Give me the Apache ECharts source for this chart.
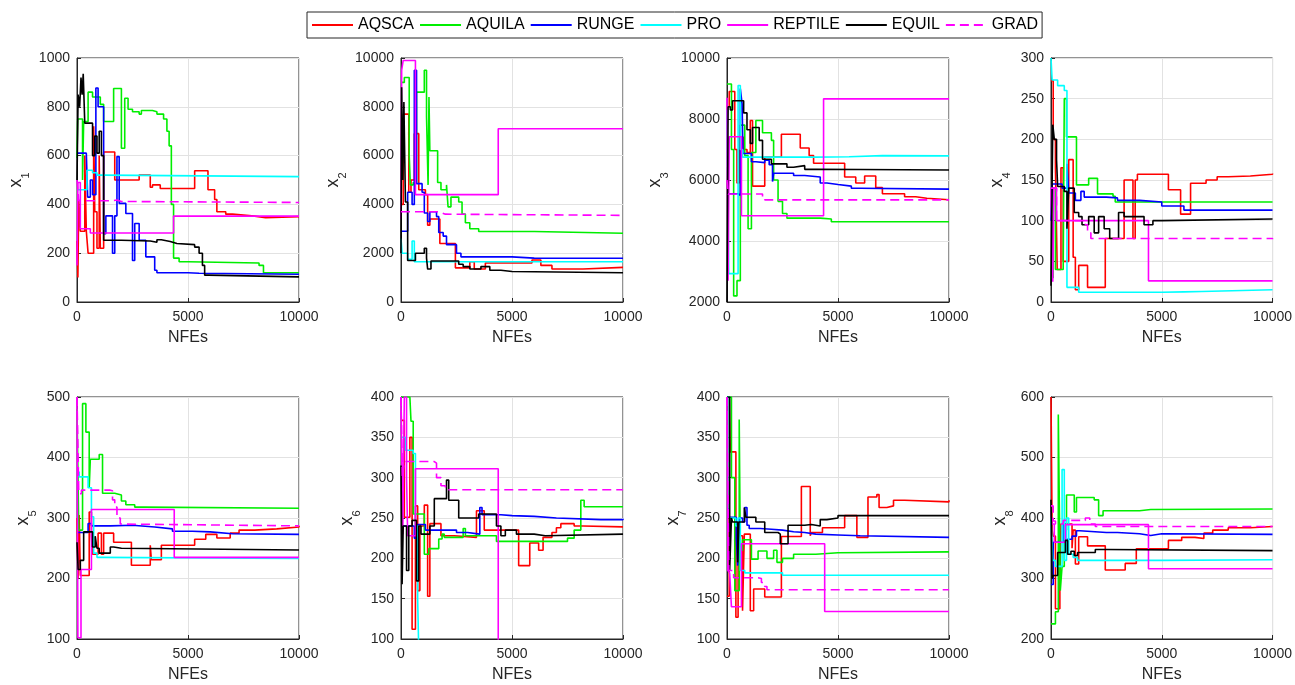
<!DOCTYPE html>
<html><head><meta charset="utf-8">
<script src="https://cdn.jsdelivr.net/npm/echarts@6/dist/echarts.min.js"></script>
<style>html,body{margin:0;padding:0;background:#fff}#c{width:1295px;height:685px}</style>
</head><body><div id="c"></div><script>
// ---------------- DATA ----------------
const SERIES = ['AQSCA','AQUILA','RUNGE','PRO','REPTILE','EQUIL','GRAD'];
const X_MIN = 0, X_MAX = 10000, X_STEP = 5000;
const Y_MIN  = [0, 0, 2000, 0, 100, 100, 100, 200];
const Y_MAX  = [1000, 10000, 10000, 300, 500, 400, 400, 600];
const Y_STEP = [200, 2000, 2000, 50, 100, 50, 50, 100];
const Y_NAMES = ['1','2','3','4','5','6','7','8'];

// x1
const x1_AQSCA = [[0,250],[40,100],[80,420],[150,290],[350,600],[420,290],[500,200],[750,720],[800,370],[900,220],[1000,600],[1050,220],[1200,615],[1700,500],[2800,520],[3300,470],[3400,480],[3750,465],[5300,538],[5900,460],[6200,420],[6300,370],[6700,360],[7000,352],[8000,345],[8500,350],[10000,350]];
const x1_AQUILA = [[0,590],[30,750],[250,500],[300,740],[500,860],[700,840],[1050,810],[1200,740],[1650,875],[2000,630],[2150,835],[2300,790],[2500,780],[2800,770],[2900,785],[3400,780],[3600,770],[3900,750],[4050,700],[4150,640],[4250,400],[4350,180],[4600,165],[5000,160],[8200,150],[8400,120],[10000,120]];
const x1_RUNGE = [[0,610],[420,610],[480,430],[600,500],[700,440],[850,877],[950,800],[1200,280],[1300,353],[1600,200],[1700,353],[1800,596],[1900,404],[2200,363],[2500,170],[2600,322],[2800,253],[3100,185],[3500,130],[3600,120],[5000,118],[5500,114],[10000,114]];
const x1_PRO = [[0,460],[300,460],[450,540],[700,530],[900,520],[1200,514],[10000,514]];
const x1_REPTILE = [[0,150],[40,490],[150,300],[600,283],[4350,352],[10000,352]];
const x1_EQUIL = [[0,500],[50,850],[120,800],[180,920],[230,850],[280,935],[350,733],[700,600],[800,680],[900,610],[1000,700],[1100,600],[1200,253],[2000,250],[3300,245],[3600,255],[3800,248],[4200,240],[4500,235],[5300,225],[5500,200],[5650,150],[5750,110],[5900,103],[10000,103]];
const x1_GRAD = [[0,500],[80,415],[1600,418],[1800,412],[2000,408],[10000,408]];

// x2
const x2_AQSCA = [[0,4000],[100,7700],[350,4500],[450,5000],[600,6900],[800,4600],[1100,4400],[1200,3150],[1300,3400],[1750,2400],[2450,1400],[3100,1650],[3300,1350],[3800,1600],[5900,1720],[6300,1500],[6800,1350],[8200,1420],[10000,1420]];
const x2_AQUILA = [[0,9000],[150,9200],[370,6000],[420,4800],[550,4900],[700,8600],[1050,9500],[1150,7600],[1220,4800],[1260,8400],[1300,6200],[1650,4900],[1800,4600],[2050,4800],[2120,3900],[2250,4300],[2600,4100],[2750,3600],[2900,3250],[3100,3000],[3500,2890],[6000,2820],[10000,2820]];
const x2_RUNGE = [[0,2900],[300,4500],[500,4000],[600,9500],[700,4850],[950,4500],[1050,3650],[1200,3300],[1300,3700],[1600,3500],[1700,2850],[1900,2700],[2050,2350],[2500,2000],[2700,1850],[5000,1800],[6000,1790],[10000,1790]];
const x2_PRO = [[0,2600],[50,2000],[300,1750],[500,2500],[600,1650],[10000,1650]];
const x2_REPTILE = [[0,3400],[30,9500],[100,9900],[650,4400],[4380,7100],[10000,7100]];
const x2_EQUIL = [[0,2000],[30,8800],[80,5000],[130,8200],[200,4100],[300,1700],[650,2000],[1050,2200],[1150,1800],[1200,1350],[1350,1680],[2600,1550],[2800,1450],[3100,1350],[3600,1450],[4000,1300],[4500,1250],[5000,1200],[10000,1200]];
const x2_GRAD = [[0,3700],[1700,3650],[1850,3600],[2000,3550],[10000,3550]];

// x3
const x3_AQSCA = [[0,8400],[100,8900],[350,7000],[450,5900],[550,7400],[750,7000],[900,6900],[1050,7950],[1150,5800],[1700,6750],[2450,7500],[3300,7050],[3700,6800],[3900,6550],[5300,6100],[5800,5900],[6200,6130],[6700,5750],[7000,5550],[8000,5450],[8500,5400],[9000,5350],[10000,5330]];
const x3_AQUILA = [[0,9150],[200,7000],[300,2200],[450,2700],[600,7800],[800,6800],[950,4400],[1100,6900],[1300,7950],[1600,7550],[2000,7300],[2100,6000],[2300,5300],[2500,4900],[2700,4750],[4200,4720],[4700,4630],[10000,4630]];
const x3_RUNGE = [[0,5550],[500,5500],[600,9000],[680,8500],[720,6870],[1100,6600],[1300,6570],[1700,6650],[1900,6500],[2050,5950],[2100,6220],[3000,6150],[3500,6100],[4200,5900],[4500,5850],[5000,5800],[5600,5730],[6000,5700],[10000,5700]];
const x3_PRO = [[0,8300],[80,2930],[500,9100],[600,7000],[700,6750],[4000,6760],[5500,6800],[7000,6790],[10000,6790]];
const x3_REPTILE = [[0,8700],[50,2700],[100,7420],[650,4830],[4350,8660],[10000,8660]];
const x3_EQUIL = [[0,2000],[50,8400],[150,8300],[250,8600],[750,8200],[900,7650],[1050,7200],[1150,7720],[1450,7300],[1600,6680],[2000,6530],[2700,6420],[3000,6470],[3500,6350],[4000,6330],[10000,6330]];
const x3_GRAD = [[0,6000],[50,5540],[1600,5420],[1700,5350],[10000,5340]];

// x4
const x4_AQSCA = [[0,272],[100,200],[200,165],[280,40],[450,165],[550,50],[800,175],[1000,55],[1100,15],[1250,45],[1650,18],[2450,78],[3300,150],[3700,78],[3800,150],[3900,157],[5300,138],[5850,108],[6300,146],[7000,150],[7500,154],[8000,155],[9000,157],[10000,158]];
const x4_AQUILA = [[0,30],[100,140],[200,40],[550,40],[600,250],[700,203],[1150,144],[1700,152],[2100,133],[2800,130],[2900,123],[10000,123]];
const x4_RUNGE = [[0,100],[50,145],[500,140],[720,170],[800,134],[1100,125],[1350,136],[1500,129],[2500,128],[3000,125],[4000,123],[5000,118],[6000,113],[10000,113]];
const x4_PRO = [[0,300],[50,273],[300,266],[600,260],[720,18],[1250,12],[4000,12],[5000,12.5],[6000,13],[6800,15],[10000,15]];
const x4_REPTILE = [[0,140],[80,25],[130,140],[250,100],[4400,26],[10000,26]];
const x4_EQUIL = [[0,20],[80,218],[150,200],[250,175],[300,142],[600,136],[720,90],[800,140],[1050,110],[1250,105],[1400,95],[1700,105],[1950,85],[2150,105],[2400,90],[2650,78],[3050,110],[3300,105],[4200,95],[4600,100],[5000,102],[10000,102]];
const x4_GRAD = [[0,140],[250,100],[1550,95],[1650,85],[1800,78],[10000,77]];

// x5
const x5_AQSCA = [[0,300],[50,200],[100,305],[150,205],[550,310],[650,270],[700,240],[950,275],[1100,240],[1200,275],[1650,260],[2450,222],[3300,255],[3350,231],[3800,255],[5300,265],[5800,273],[6300,267],[6900,275],[7300,280],[8000,282],[9000,285],[10000,287]];
const x5_AQUILA = [[0,480],[80,280],[250,489],[400,442],[550,350],[600,397],[1000,405],[1150,341],[1700,338],[2000,328],[2200,322],[2600,318],[3000,316],[10000,316]];
const x5_RUNGE = [[0,276],[500,291],[650,287],[1500,288],[2500,285],[3500,282],[4300,278],[5200,277],[6000,274],[7000,273],[10000,273]];
const x5_PRO = [[0,376],[100,368],[500,350],[650,302],[750,242],[900,235],[1100,233],[10000,233]];
const x5_REPTILE = [[0,500],[40,102],[180,215],[650,314],[4380,235],[10000,235]];
const x5_EQUIL = [[0,260],[50,215],[150,230],[300,277],[700,252],[820,270],[900,250],[1000,242],[1500,252],[1650,250],[2000,247],[10000,247]];
const x5_GRAD = [[0,500],[80,340],[200,346],[1500,345],[1600,330],[1700,318],[1800,300],[1950,290],[2100,287],[10000,287]];

// x6
const x6_AQSCA = [[0,371],[150,251],[400,350],[500,112],[650,265],[750,160],[850,240],[1050,266],[1200,153],[1300,243],[1800,228],[2400,226],[3400,259],[3750,235],[5300,191],[5800,219],[6200,210],[6400,226],[6800,232],[7000,238],[7200,243],[7800,240],[8200,239],[10000,239]];
const x6_AQUILA = [[0,400],[400,400],[450,370],[550,255],[1050,205],[1250,212],[1700,224],[1850,230],[1950,226],[2800,237],[2900,228],[4300,221],[7500,225],[7800,235],[8100,272],[8250,264],[10000,264]];
const x6_RUNGE = [[0,240],[600,225],[750,242],[1100,235],[2500,232],[3000,230],[3550,263],[3650,254],[4500,253],[5000,252],[6000,250],[7000,248],[9000,248],[10000,249]];
const x6_PRO = [[0,350],[200,334],[550,330],[650,240],[750,150],[820,60],[10000,60]];
const x6_REPTILE = [[0,400],[80,230],[150,400],[250,300],[300,228],[650,311],[4380,60],[10000,60]];
const x6_EQUIL = [[0,315],[50,168],[100,240],[250,185],[350,240],[500,247],[700,172],[800,240],[900,230],[1300,240],[1500,274],[2050,297],[2150,272],[2600,250],[3500,255],[4300,240],[4500,228],[4700,235],[5200,230],[6000,228],[6500,230],[10000,230]];
const x6_GRAD = [[0,400],[60,300],[150,320],[1500,318],[1600,300],[1800,290],[2000,285],[10000,285]];

// x7
const x7_AQSCA = [[0,153],[100,400],[150,332],[400,127],[500,228],[700,135],[780,230],[1050,135],[1200,162],[1700,152],[2450,227],[3350,289],[3750,228],[3800,232],[4300,238],[5300,253],[5850,226],[6350,276],[6750,279],[6850,263],[7200,265],[7500,272],[8000,270],[10000,272]];
const x7_AQUILA = [[0,400],[200,300],[350,160],[550,372],[600,210],[700,223],[1100,199],[1400,209],[1800,200],[2100,210],[2250,195],[2500,200],[3000,205],[4000,207],[5000,208],[10000,208]];
const x7_RUNGE = [[0,261],[100,251],[420,225],[480,191],[550,250],[700,245],[800,263],[900,241],[1000,237],[1500,236],[2000,235],[2500,233],[3000,232],[3500,230],[4000,229],[5000,228],[6000,226],[10000,226]];
const x7_PRO = [[0,400],[100,250],[400,240],[500,250],[600,185],[800,182],[2500,179],[10000,179]];
const x7_REPTILE = [[0,400],[40,185],[120,182],[200,140],[650,218],[4400,134],[10000,134]];
const x7_EQUIL = [[0,400],[120,185],[200,250],[250,245],[480,195],[530,245],[780,263],[850,251],[1300,245],[1700,232],[2300,230],[2400,218],[2750,241],[3500,242],[3800,240],[4200,248],[4500,250],[5000,253],[10000,253]];
const x7_GRAD = [[0,400],[80,185],[300,176],[1400,175],[1550,170],[1700,165],[1800,161],[10000,161]];

// x8
const x8_AQSCA = [[0,600],[50,380],[100,370],[200,250],[400,300],[450,390],[950,350],[1000,380],[1100,324],[1250,369],[1650,354],[2450,314],[3350,325],[3850,349],[5300,363],[5900,368],[6500,366],[6900,375],[7300,380],[8000,384],[9000,386],[10000,386]];
const x8_AQUILA = [[0,225],[200,245],[330,571],[420,280],[500,320],[600,380],[700,438],[1050,410],[1150,434],[1950,430],[2150,404],[2350,412],[4000,414],[4500,415],[10000,415]];
const x8_RUNGE = [[0,290],[100,360],[550,390],[650,365],[950,370],[1150,379],[1300,376],[2500,376],[3000,374],[4000,371],[4500,374],[5000,373],[10000,373]];
const x8_PRO = [[0,400],[80,330],[200,320],[500,480],[600,330],[700,400],[800,340],[1000,335],[1200,330],[4000,330],[5000,331],[10000,331]];
const x8_REPTILE = [[0,410],[50,390],[150,360],[650,389],[4400,316],[10000,316]];
const x8_EQUIL = [[0,430],[50,300],[100,305],[300,343],[650,363],[750,340],[900,345],[1050,338],[1200,343],[2000,348],[2500,346],[10000,346]];
const x8_GRAD = [[0,420],[100,395],[200,390],[550,396],[1550,400],[1750,390],[2000,386],[10000,386]];

// ---------------- BUILD ----------------
const PANEL_DATA = [
  [x1_AQSCA,x1_AQUILA,x1_RUNGE,x1_PRO,x1_REPTILE,x1_EQUIL,x1_GRAD],
  [x2_AQSCA,x2_AQUILA,x2_RUNGE,x2_PRO,x2_REPTILE,x2_EQUIL,x2_GRAD],
  [x3_AQSCA,x3_AQUILA,x3_RUNGE,x3_PRO,x3_REPTILE,x3_EQUIL,x3_GRAD],
  [x4_AQSCA,x4_AQUILA,x4_RUNGE,x4_PRO,x4_REPTILE,x4_EQUIL,x4_GRAD],
  [x5_AQSCA,x5_AQUILA,x5_RUNGE,x5_PRO,x5_REPTILE,x5_EQUIL,x5_GRAD],
  [x6_AQSCA,x6_AQUILA,x6_RUNGE,x6_PRO,x6_REPTILE,x6_EQUIL,x6_GRAD],
  [x7_AQSCA,x7_AQUILA,x7_RUNGE,x7_PRO,x7_REPTILE,x7_EQUIL,x7_GRAD],
  [x8_AQSCA,x8_AQUILA,x8_RUNGE,x8_PRO,x8_REPTILE,x8_EQUIL,x8_GRAD]
];

const COLORS = ['#ff0000','#00ee00','#0000ff','#00ffff','#ff00ff','#000000','#ff00ff'];
const FONT = '"Liberation Sans", Arial, Helvetica, sans-serif';
const AX = '#262626';
const COL_LEFT = [77, 401, 727, 1051];
const ROW_TOP = [58, 397];
const GW = 222, GH = [244, 242];
const NAME_GAP = [46, 53, 57, 39, 39, 39, 39, 36];
const plain = v => String(v);

const grids = [], xAxes = [], yAxes = [], series = [];
for (let i = 0; i < 8; i++) {
  const r = Math.floor(i / 4), c = i % 4;
  grids.push({left: COL_LEFT[c], top: ROW_TOP[r], width: GW, height: GH[r],
    show: true, borderColor: AX, borderWidth: 1, backgroundColor: 'transparent', containLabel: false});
  xAxes.push({gridIndex: i, type: 'value', min: X_MIN, max: X_MAX, interval: X_STEP,
    name: 'NFEs', nameLocation: 'middle', nameGap: 28,
    nameTextStyle: {fontSize: 16, color: AX, fontFamily: FONT},
    axisLine: {show: true, lineStyle: {color: AX, width: 1}},
    axisTick: {show: true, inside: true, length: 4, lineStyle: {color: AX}},
    axisLabel: {fontSize: 14, color: AX, fontFamily: FONT, margin: 8, formatter: plain},
    splitLine: {show: true, lineStyle: {color: '#e2e2e2', width: 1}}});
  yAxes.push({gridIndex: i, type: 'value', min: Y_MIN[i], max: Y_MAX[i], interval: Y_STEP[i],
    name: '{x|x}{s|' + Y_NAMES[i] + '}', nameLocation: 'middle', nameGap: NAME_GAP[i],
    nameTextStyle: {color: AX, fontFamily: FONT, rich: {
      x: {fontSize: 18, color: AX, fontFamily: FONT, padding: [0, 0, 6, 0]},
      s: {fontSize: 11, color: AX, fontFamily: FONT, verticalAlign: 'bottom'}}},
    axisLine: {show: true, lineStyle: {color: AX, width: 1}},
    axisTick: {show: true, inside: true, length: 4, lineStyle: {color: AX}},
    axisLabel: {fontSize: 14, color: AX, fontFamily: FONT, margin: 7, formatter: plain},
    splitLine: {show: true, lineStyle: {color: '#e2e2e2', width: 1}}});
  for (let j = 0; j < SERIES.length; j++) {
    series.push({type: 'line', name: SERIES[j], xAxisIndex: i, yAxisIndex: i,
      data: PANEL_DATA[i][j], step: 'end', symbol: 'none', showSymbol: false,
      clip: true, silent: true, z: 2 + j,
      lineStyle: {color: COLORS[j], width: 1.6, type: j === 6 ? [9, 5] : 'solid'},
      itemStyle: {color: COLORS[j]}});
  }
}

const chart = echarts.init(document.getElementById('c'), null, {renderer: 'canvas'});
chart.setOption({
  animation: false,
  backgroundColor: '#ffffff',
  legend: {data: SERIES, left: 307, top: 12, orient: 'horizontal',
    padding: [5, 4, 5, 4], itemGap: 5, itemWidth: 41, itemHeight: 14,
    itemStyle: {opacity: 0, color: 'rgba(0,0,0,0)', borderWidth: 0},
    borderColor: AX, borderWidth: 1, backgroundColor: '#fff',
    textStyle: {fontSize: 16, color: '#000', fontFamily: FONT}},
  grid: grids, xAxis: xAxes, yAxis: yAxes, series: series
});
</script></body></html>
